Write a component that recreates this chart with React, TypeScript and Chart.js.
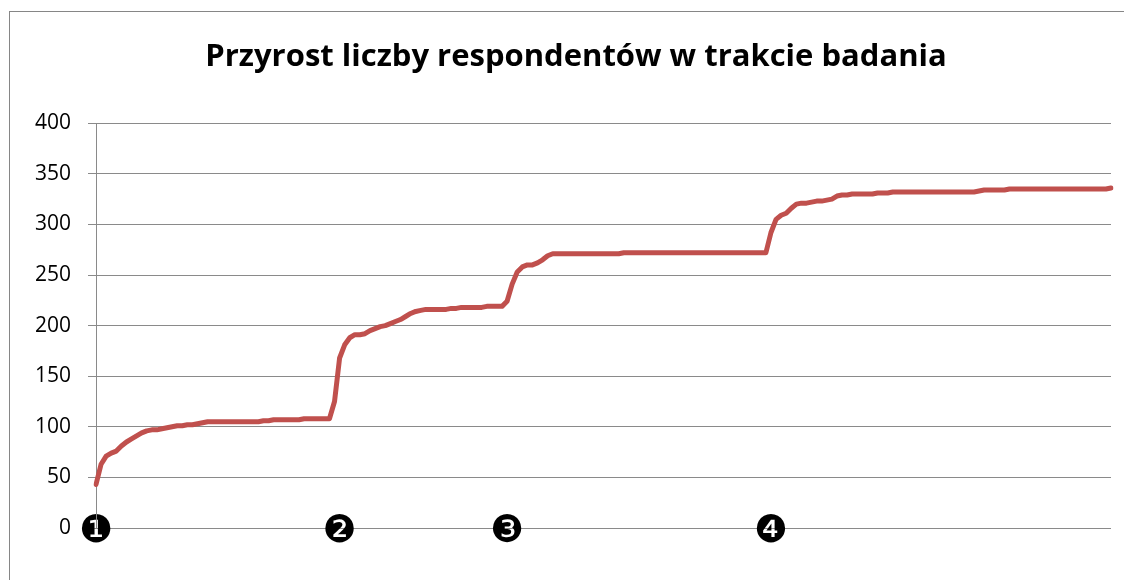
import React, { useEffect, useRef } from "react";
import { Chart, registerables } from "chart.js";

Chart.register(...registerables);

const titleText = "Przyrost liczby respondentów w trakcie badania";

const respondents: number[] = [
  43, 63, 71, 74, 76, 81, 85, 88, 91, 94,
  96, 97, 97, 98, 99, 100, 101, 101, 102, 102,
  103, 104, 105, 105, 105, 105, 105, 105, 105, 105,
  105, 105, 105, 106, 106, 107, 107, 107, 107, 107,
  107, 108, 108, 108, 108, 108, 108, 125, 168, 181,
  188, 191, 191, 192, 195, 197, 199, 200, 202, 204,
  206, 209, 212, 214, 215, 216, 216, 216, 216, 216,
  217, 217, 218, 218, 218, 218, 218, 219, 219, 219,
  219, 224, 241, 253, 258, 260, 260, 262, 265, 269,
  271, 271, 271, 271, 271, 271, 271, 271, 271, 271,
  271, 271, 271, 271, 272, 272, 272, 272, 272, 272,
  272, 272, 272, 272, 272, 272, 272, 272, 272, 272,
  272, 272, 272, 272, 272, 272, 272, 272, 272, 272,
  272, 272, 272, 292, 305, 309, 311, 316, 320, 321,
  321, 322, 323, 323, 324, 325, 328, 329, 329, 330,
  330, 330, 330, 330, 331, 331, 331, 332, 332, 332,
  332, 332, 332, 332, 332, 332, 332, 332, 332, 332,
  332, 332, 332, 332, 333, 334, 334, 334, 334, 334,
  335, 335, 335, 335, 335, 335, 335, 335, 335, 335,
  335, 335, 335, 335, 335, 335, 335, 335, 335, 335,
  336,
];

const markerIndices: number[] = [0, 48, 81, 133];
const markerLabels: string[] = ["❶", "❷", "❸", "❹"];

const yTicks: number[] = [0, 50, 100, 150, 200, 250, 300, 350, 400];

const categories: string[] = respondents.map((_, i) => {
  const k = markerIndices.indexOf(i);
  return k >= 0 ? markerLabels[k] : "";
});

const GRID = "#8a8a8a";
const X_SHIFT = 30;

// widen the label clip boxes so the y labels and the axis markers are not cut
const unclipPlugin = {
  id: "unclipLabels",
  afterLayout(chart: any) {
    const y = chart.scales.y;
    if (y) y.left = 0;
    const x = chart.scales.x;
    if (x) x.top = x.top - X_SHIFT;
  },
};

export default function App() {
  const ref = useRef<HTMLCanvasElement | null>(null);

  useEffect(() => {
    if (!ref.current) return;
    const chart = new Chart(ref.current, {
      type: "line",
      data: {
        labels: categories,
        datasets: [
          {
            data: respondents,
            borderColor: "#C0504D",
            backgroundColor: "#C0504D",
            borderWidth: 5,
            pointRadius: 0,
            tension: 0,
            borderJoinStyle: "round",
            borderCapStyle: "round",
          },
        ],
      },
      plugins: [unclipPlugin],
      options: {
        responsive: false,
        animation: false,
        devicePixelRatio: 1,
        layout: { padding: { left: 32, right: 13, top: 0, bottom: 0 } },
        plugins: {
          legend: { display: false },
          tooltip: { enabled: false },
          title: {
            display: true,
            text: titleText,
            color: "#000",
            font: { family: "'Open Sans'", size: 31, weight: "bold", lineHeight: 1.2 },
            padding: { top: 28, bottom: 47 },
          },
        },
        scales: {
          x: {
            type: "category",
            offset: false,
            grid: { display: false },
            border: { display: false },
            ticks: {
              autoSkip: false,
              maxRotation: 0,
              minRotation: 0,
              color: "#000",
              font: { family: "'DejaVu Sans'", size: 38, lineHeight: 1 },
              padding: X_SHIFT - 19 - 4,
              callback: (_v: any, i: number) => categories[i],
            },
            afterFit: (scale: any) => {
              scale.height = 52;
            },
          },
          y: {
            min: 0,
            max: 400,
            afterBuildTicks: (scale: any) => {
              scale.ticks = yTicks.map((v) => ({ value: v }));
            },
            grid: { color: GRID, lineWidth: 1, tickLength: 8, drawTicks: true },
            border: { display: true, color: GRID, width: 1 },
            ticks: {
              color: "#000",
              padding: 17,
              font: { family: "'Open Sans'", size: 21 },
            },
            afterFit: (scale: any) => {
              scale.width = 55;
            },
          },
        },
      },
    });
    return () => chart.destroy();
  }, []);

  return (
    <div>
      <div style={{ position: "absolute", left: 9, top: 11, width: 1115, height: 569 }}>
        <canvas ref={ref} width={1115} height={569} />
      </div>
      <div
        style={{
          position: "absolute",
          left: 9,
          top: 11,
          width: 1115,
          height: 569,
          borderLeft: "1px solid #868686",
          borderTop: "1px solid #868686",
          boxSizing: "border-box",
          pointerEvents: "none",
        }}
      />
    </div>
  );
}
